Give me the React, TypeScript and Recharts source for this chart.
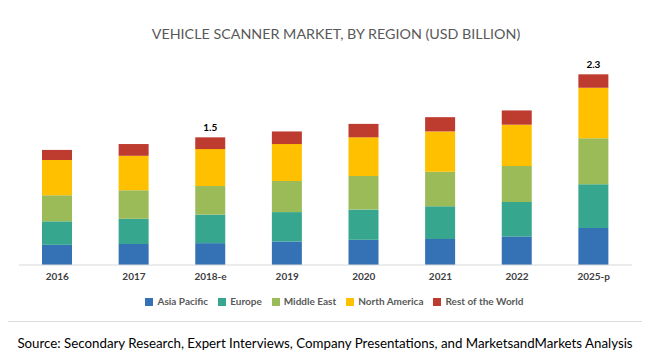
import { BarChart, Bar, XAxis, YAxis, Legend, LabelList } from 'recharts';

const YEARS = ['2016', '2017', '2018-e', '2019', '2020', '2021', '2022', '2025-p'];
const ASIA_PACIFIC = [0.24, 0.25, 0.26, 0.28, 0.30, 0.31, 0.34, 0.44];
const EUROPE = [0.28, 0.30, 0.34, 0.35, 0.36, 0.39, 0.41, 0.52];
const MIDDLE_EAST = [0.31, 0.34, 0.34, 0.37, 0.40, 0.41, 0.43, 0.55];
const NORTH_AMERICA = [0.42, 0.41, 0.44, 0.44, 0.46, 0.48, 0.49, 0.60];
const REST_OF_WORLD = [0.12, 0.14, 0.14, 0.15, 0.16, 0.17, 0.17, 0.16];
const TOTAL_LABELS = ['', '', '1.5', '', '', '', '', '2.3'];

const SERIES = [
    { key: 'asia', name: 'Asia Pacific', color: '#3472B5' },
    { key: 'europe', name: 'Europe', color: '#37A68E' },
    { key: 'me', name: 'Middle East', color: '#9BBB59' },
    { key: 'na', name: 'North America', color: '#FFC000' },
    { key: 'row', name: 'Rest of the World', color: '#BE3B2F' },
];

const FONT = 'Lato, "Open Sans", sans-serif';

export default function App() {
    const data = YEARS.map((year, i) => ({
        year,
        asia: ASIA_PACIFIC[i],
        europe: EUROPE[i],
        me: MIDDLE_EAST[i],
        na: NORTH_AMERICA[i],
        row: REST_OF_WORLD[i],
        label: TOTAL_LABELS[i],
    }));

    return (
        <div style={{ position: 'relative', width: 650, height: 355, margin: '-8px 0 0 -8px', background: '#fff', fontFamily: FONT, overflow: 'hidden' }}>
            <div style={{ position: 'absolute', left: 4, top: 6, width: 640, height: 314, border: '1px solid #dcdcdc' }} />
            <div style={{ position: 'absolute', left: 11, width: 650, top: 25, textAlign: 'center', fontSize: 14.3, color: '#595959', lineHeight: '18px' }}>
                VEHICLE SCANNER MARKET, BY REGION (USD BILLION)
            </div>
            <div style={{ position: 'absolute', left: 0, top: 0 }}>
                <BarChart width={650} height={322} data={data} margin={{ top: 55, right: 18, left: 19, bottom: 0 }} barSize={30}>
                    <XAxis
                        dataKey="year"
                        height={30}
                        tick={{ fill: '#404040', fontSize: 10, fontWeight: 700, fontFamily: FONT }}
                        tickLine={false}
                        axisLine={{ stroke: '#d9d9d9' }}
                        interval={0}
                    />
                    <YAxis hide domain={[0, 2.5]} />
                    <Legend
                        verticalAlign="bottom"
                        height={27}
                        iconType="square"
                        iconSize={8}
                        wrapperStyle={{ fontSize: 10, fontWeight: 700, fontFamily: FONT, paddingLeft: 14 }}
                        formatter={(value) => <span style={{ color: '#595959' }}>{value}</span>}
                    />
                    {SERIES.map((s, idx) => (
                        <Bar key={s.key} dataKey={s.key} name={s.name} stackId="a" fill={s.color} isAnimationActive={false}>
                            {idx === SERIES.length - 1 && (
                                <LabelList dataKey="label" position="top" offset={6} style={{ fill: '#000', fontSize: 10, fontWeight: 700, fontFamily: FONT }} />
                            )}
                        </Bar>
                    ))}
                </BarChart>
            </div>
            <div style={{ position: 'absolute', left: 0, width: 650, top: 334, textAlign: 'center', fontSize: 13.3, color: '#000', lineHeight: '18px' }}>
                Source: Secondary Research, Expert Interviews, Company Presentations, and MarketsandMarkets Analysis
            </div>
        </div>
    );
}
